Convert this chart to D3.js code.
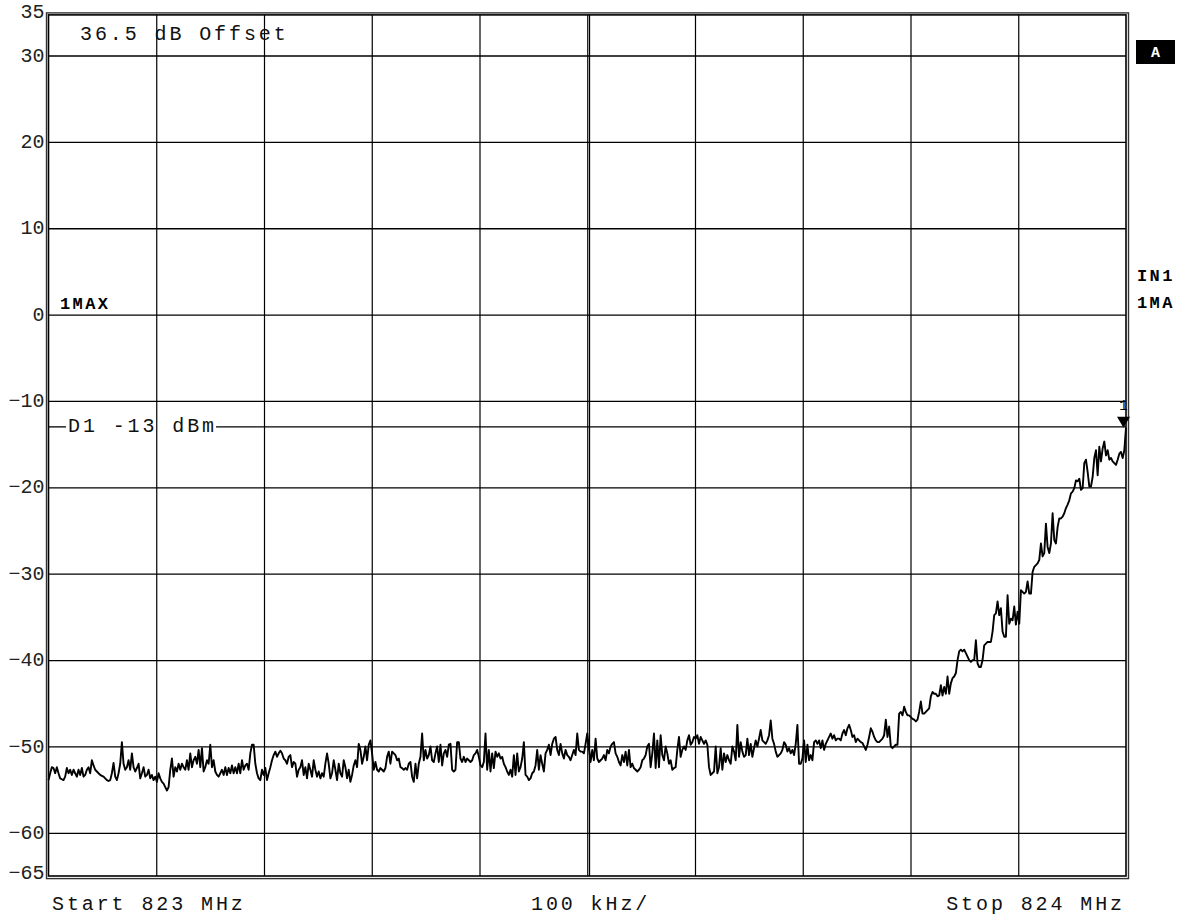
<!DOCTYPE html>
<html>
<head>
<meta charset="utf-8">
<script src="https://cdn.jsdelivr.net/npm/d3@7"></script>
<style>
  body { margin: 0; background: #fff; }
  svg { display: block; font-family: "Liberation Mono", monospace; }
  .lbl { font-size: 20px; letter-spacing: 2.9px; fill: #111; }
  .bold { font-weight: bold; font-size: 17px; letter-spacing: 2.4px; fill: #000; }
</style>
</head>
<body>
<svg class="canvas" width="1183" height="917"></svg>
<script>
// sweep + display settings
const startMHz = 823;
const stopMHz = 824;
const spanLabel = "100 kHz/";
const offsetLabel = "36.5 dB Offset";
const displayLine = -13;
const yTicks = [35, 30, 20, 10, 0, -10, -20, -30, -40, -50, -60, -65];
const yGrid = [30, 20, 10, 0, -10, -20, -30, -40, -50, -60];
const xGrid = [823.1, 823.2, 823.3, 823.4, 823.5, 823.6, 823.7, 823.8, 823.9];

// trace 1 (max hold), dBm per sweep point
const traceLow = [
  -53.9,-53.1,-52.4,-52.5,-53.1,-52.4,-53.1,-53.7,-53.8,-53.9,
  -53.5,-52.5,-53.1,-52.7,-53.3,-52.7,-53.1,-53.5,-52.7,-53.3,
  -52.5,-53.5,-53.3,-52.7,-52.4,-53.1,-51.6,-52.2,-52.7,-52.9,
  -53.1,-53.3,-53.4,-53.5,-53.7,-53.9,-54.0,-53.9,-53.1,-51.9,
  -53.5,-53.9,-53.1,-52.0,-49.5,-52.0,-52.7,-52.4,-51.6,-52.7,
  -50.8,-52.4,-52.9,-52.5,-52.0,-53.7,-53.1,-52.4,-53.5,-53.3,
  -52.7,-53.7,-53.3,-53.9,-53.5,-54.1,-53.1,-53.7,-54.1,-54.3,
  -54.7,-55.1,-54.7,-52.7,-51.4,-53.5,-52.4,-52.9,-52.0,-52.7,
  -52.0,-52.4,-52.7,-51.6,-52.7,-50.8,-52.4,-51.6,-51.2,-52.0,
  -50.4,-52.4,-50.2,-52.9,-52.4,-51.6,-52.0,-49.8,-52.4,-51.6,
  -52.9,-53.3,-53.5,-53.1,-52.7,-53.3,-52.4,-53.3,-52.5,-53.1,
  -52.2,-53.1,-52.4,-53.1,-52.0,-53.1,-51.6,-52.7,-52.2,-52.0,
  -52.7,-50.8,-49.8,-49.8,-52.0,-53.1,-53.7,-53.9,-52.7,-53.3,
  -52.5,-53.9,-53.1,-52.4,-51.6,-51.0,-50.6,-51.2,-50.8,-50.5,
  -50.8,-51.4,-51.6,-52.0,-51.2,-51.0,-52.4,-51.8,-52.0,-53.5,
  -52.7,-52.4,-51.6,-53.3,-52.4,-53.7,-52.0,-52.7,-53.5,-51.6,
  -52.7,-53.5,-52.9,-53.7,-53.1,-53.5,-52.0,-50.8,-52.0,-53.7,
  -53.1,-51.6,-52.7,-53.9,-52.0,-53.1,-53.5,-51.6,-52.4,-53.7,
  -52.7,-54.1,-53.3,-52.2,-51.6,-52.4,-49.7,-50.4,-52.0,-51.2,
  -50.0,-51.6,-49.8,-49.3,-50.8,-52.7,-51.8,-52.7,-52.9,-52.5,
  -52.7,-52.9,-52.5,-51.2,-50.6,-52.0,-50.6,-50.8,-51.0,-51.6,
  -51.4,-52.4,-52.5,-52.7,-52.5,-52.7,-52.0,-51.8,-53.5,-54.1,
  -52.0,-53.7,-52.0,-51.2
];
const traceMid = [
  -48.5,-51.6,-50.4,-51.4,-51.0,-50.0,-51.6,-51.8,-50.8,-50.0,
  -51.8,-49.8,-52.2,-50.8,-50.4,-51.2,-49.8,-49.7,-52.7,-52.9,
  -52.7,-49.5,-49.5,-51.4,-51.8,-51.2,-51.8,-51.4,-51.6,-51.8,
  -51.6,-51.0,-50.8,-50.4,-51.2,-52.2,-52.4,-51.8,-48.5,-52.7,
  -50.4,-52.9,-50.8,-52.5,-50.6,-51.2,-50.8,-51.4,-51.2,-52.0,
  -52.4,-52.9,-53.3,-52.7,-53.5,-51.0,-53.3,-50.8,-52.9,-52.4,
  -51.4,-49.5,-53.3,-53.5,-53.9,-53.7,-53.1,-52.9,-52.2,-50.4,
  -52.7,-51.0,-52.0,-52.9,-50.8,-50.4,-49.8,-51.0,-49.7,-49.1,
  -48.9,-50.4,-51.0,-49.7,-50.8,-51.4,-50.4,-51.0,-51.2,-51.6,
  -51.0,-50.4,-51.0,-48.5,-50.4,-50.6,-50.6,-50.8,-49.7,-48.5,
  -50.2,-51.8,-50.4,-51.6,-49.1,-51.4,-51.8,-51.6,-51.4,-51.0,
  -51.6,-50.4,-50.8,-50.0,-49.7,-49.5,-50.8,-51.2,-51.8,-52.2,
  -51.0,-51.8,-50.6,-52.2,-50.4,-52.4,-52.0,-52.5,-52.7,-52.9,
  -52.7,-52.4,-51.6,-51.4,-51.0,-50.0,-49.7,-52.4,-50.8,-48.5,
  -52.5,-49.3,-52.4,-48.7,-51.0,-51.6,-50.0,-50.8,-52.0,-51.6,
  -52.7,-52.5,-52.4,-50.4,-48.9,-51.2,-50.4,-50.0,-50.4,-49.3,
  -48.7,-49.8,-49.5,-48.9,-49.1,-48.7,-49.7,-48.9,-49.3,-49.7,
  -49.3,-49.8,-52.4,-53.3,-53.1,-52.9,-50.0,-53.1,-52.4,-50.2,
  -52.7,-50.8,-51.8,-51.0,-51.6,-52.0,-50.0,-50.6,-51.6,-47.5,
  -51.2,-49.5,-50.6,-51.2,-51.0,-49.1,-51.0,-49.7,-51.2,-50.2,
  -49.3,-50.0,-49.1,-48.1,-49.3,-49.5,-49.7,-49.3,-48.7,-47.0,
  -49.1,-49.7,-50.6,-51.2,-51.0,-50.8,-50.4,-49.5,-49.8,-50.6,
  -50.2,-50.8,-50.4,-51.0,-49.7,-47.5,-52.0,-52.0,-51.4,-49.3,
  -51.8,-49.8,-51.6,-51.0,-51.6,-49.5,-49.3,-49.7,-49.3,-50.2,
  -49.3,-50.4,-49.7,-49.3,-48.9,-48.5,-49.1,-48.7,-49.3,-49.1,
  -49.1,-49.3
];
const traceRise = [
  -48.5,-48.1,-48.7,-47.9,-47.5,-48.1,-48.9,-48.7,-49.5,-49.1,
  -49.3,-49.5,-49.6,-50.0,-50.4,-49.8,-48.9,-47.9,-48.3,-48.9,
  -49.3,-49.5,-49.5,-49.3,-49.1,-48.7,-46.9,-48.9,-47.7,-50.0,
  -50.2,-50.0,-49.8,-49.8,-46.2,-46.0,-46.4,-45.4,-46.0,-46.4,
  -46.4,-46.6,-46.8,-46.9,-47.1,-46.9,-46.0,-44.8,-46.2,-46.2,
  -46.0,-45.8,-45.6,-44.2,-43.7,-43.9,-43.9,-44.2,-44.1,-42.9,
  -44.1,-43.1,-43.9,-41.9,-43.9,-42.7,-42.1,-41.9,-41.5,-40.0,
  -39.0,-38.8,-39.0,-38.8,-39.2,-39.6,-40.0,-40.2,-40.0,-40.0,
  -37.7,-40.4,-40.8,-40.8,-40.0,-38.3,-38.1,-37.9,-37.9,-37.9,
  -36.7,-34.8,-34.6,-33.2,-34.8,-34.0,-36.7,-37.3,-37.3,-32.5,
  -35.8,-35.2,-35.4,-33.8,-35.9,-34.4,-35.8,-31.9,-32.1,-32.3,
  -32.1,-30.9,-32.3,-32.3,-29.8,-29.2,-29.0,-28.8,-28.4
];
const traceTop = [
  -26.5,-28.0,-27.6,-24.2,-26.9,-27.6,-26.5,-23.0,-26.1,-26.5,
  -24.6,-23.6,-23.6,-23.4,-23.0,-22.4,-22.0,-21.5,-20.7,-20.5,
  -20.1,-19.2,-19.3,-19.0,-20.3,-20.1,-17.2,-16.8,-18.2,-19.9,
  -19.9,-18.8,-16.6,-15.7,-18.6,-15.3,-17.0,-15.5,-14.7,-16.3,
  -15.7,-16.8,-16.6,-17.0,-17.2,-17.4,-16.8,-16.1,-15.9,-16.6,
  -15.7,-13.1
];

const levels = traceLow.concat(traceMid, traceRise, traceTop);
const step = (stopMHz - startMHz) / (levels.length - 1);
const data = levels.map((v, i) => ({ f: startMHz + i * step, v: v }));

const svg = d3.select(".canvas");
const plotLeft = 48.5, plotRight = 1126;

// scales
const xScale = d3.scaleLinear().domain([startMHz, stopMHz]).range([plotLeft, plotRight]);
const yScale = d3.scaleLinear().domain([-65, 35]).range([876, 12.3]);
const plotTop = yScale(35) + 2.6, plotBottom = yScale(-65);

// grid
svg.append("g")
  .attr("transform", `translate(${plotLeft},0)`)
  .call(d3.axisLeft(yScale).tickValues(yGrid).tickSize(-(plotRight - plotLeft)).tickFormat(""))
  .call((g) => g.select(".domain").remove())
  .selectAll("line").attr("stroke", "#000").attr("stroke-width", 1.3);
svg.append("g")
  .attr("transform", `translate(0,${plotBottom})`)
  .call(d3.axisBottom(xScale).tickValues(xGrid).tickSize(-(plotBottom - plotTop)).tickFormat(""))
  .call((g) => g.select(".domain").remove())
  .selectAll("line").attr("stroke", "#000").attr("stroke-width", 1.2);
// centre line is doubled on the screen
svg.append("line")
  .attr("x1", xScale(823.5) + 2.3).attr("x2", xScale(823.5) + 2.3)
  .attr("y1", plotTop).attr("y2", plotBottom)
  .attr("stroke", "#000").attr("stroke-width", 1.2);

// double frame
svg.append("rect")
  .attr("x", plotLeft).attr("y", plotTop)
  .attr("width", plotRight - plotLeft).attr("height", plotBottom - plotTop)
  .attr("fill", "none").attr("stroke", "#000").attr("stroke-width", 1.6);
svg.append("rect")
  .attr("x", plotLeft - 2).attr("y", plotTop - 2)
  .attr("width", plotRight - plotLeft + 4.5).attr("height", plotBottom - plotTop + 4.6)
  .attr("fill", "none").attr("stroke", "#333").attr("stroke-width", 1.4);

// y labels
const yAxis = svg.append("g")
  .attr("transform", `translate(${plotLeft},0)`)
  .call(d3.axisLeft(yScale).tickValues(yTicks).tickSize(0).tickPadding(4));
yAxis.select(".domain").remove();
yAxis.selectAll("text")
  .attr("font-family", "Liberation Mono, monospace")
  .attr("font-size", 20)
  .attr("fill", "#222")
  .attr("dy", "0.28em")
  .attr("y", (d) => (d === -65 ? -3.4 : 0));

// display line D1 with its label
const dlY = yScale(displayLine);
const dlText = svg.append("text").attr("class", "lbl")
  .attr("x", 68).attr("y", dlY + 5.5).text("D1 -13 dBm");
const dlEnd = 68 + dlText.node().getComputedTextLength();
svg.append("line").attr("x1", plotLeft).attr("x2", 66).attr("y1", dlY).attr("y2", dlY)
  .attr("stroke", "#000").attr("stroke-width", 1.3);
svg.append("line").attr("x1", dlEnd - 1).attr("x2", plotRight).attr("y1", dlY).attr("y2", dlY)
  .attr("stroke", "#000").attr("stroke-width", 1.3);

// trace
const line = d3.line().x((d) => xScale(d.f)).y((d) => yScale(d.v));
svg.append("path")
  .datum(data)
  .attr("d", line)
  .attr("fill", "none")
  .attr("stroke", "#000")
  .attr("stroke-width", 1.9)
  .attr("stroke-linejoin", "round");

// marker 1 at the trace maximum
const peak = data[d3.maxIndex(data, (d) => d.v)];
const mx = xScale(peak.f) - 2.5, my = yScale(peak.v);
svg.append("path")
  .attr("d", `M${mx - 6.5},${my - 11} L${mx + 6.5},${my - 11} L${mx},${my} Z`)
  .attr("fill", "#000");
svg.append("text")
  .attr("x", mx).attr("y", my - 18)
  .attr("text-anchor", "middle")
  .attr("font-size", 14).attr("fill", "#000")
  .text("1");

// annotations
svg.append("text").attr("class", "lbl").attr("x", 80).attr("y", 39.5).text(offsetLabel);
svg.append("text").attr("class", "lbl").attr("x", 52).attr("y", 910).text(`Start ${startMHz} MHz`);
svg.append("text").attr("class", "lbl").attr("x", 531).attr("y", 910).text(spanLabel);
svg.append("text").attr("class", "lbl").attr("x", 1125).attr("y", 910)
  .attr("text-anchor", "end").text(`Stop ${stopMHz} MHz`);

svg.append("text").attr("class", "bold").attr("x", 60).attr("y", 309).text("1MAX");
svg.append("text").attr("class", "bold").attr("x", 1137).attr("y", 281).text("IN1");
svg.append("text").attr("class", "bold").attr("x", 1137).attr("y", 308).text("1MA");

svg.append("rect").attr("x", 1136).attr("y", 40).attr("width", 39).attr("height", 24).attr("fill", "#000");
svg.append("text").attr("x", 1155.5).attr("y", 57)
  .attr("text-anchor", "middle").attr("font-weight", "bold")
  .attr("font-size", 15).attr("fill", "#fff").text("A");
</script>
</body>
</html>
